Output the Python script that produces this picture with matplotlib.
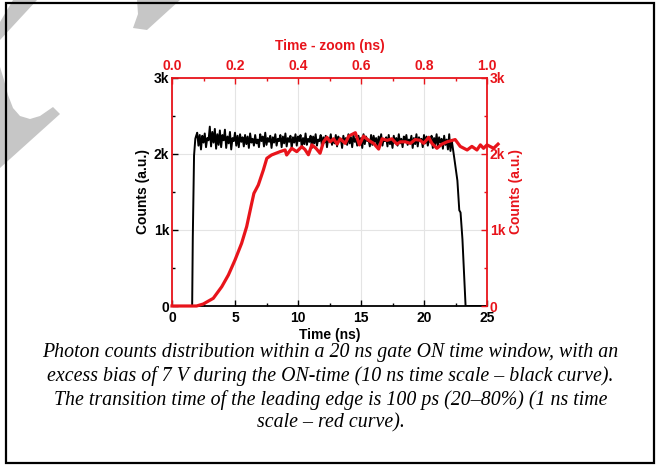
import numpy as np
import matplotlib
matplotlib.use('Agg')
import matplotlib.pyplot as plt
from matplotlib.patches import Polygon, Rectangle
from matplotlib.ticker import MultipleLocator, FuncFormatter

#%% DATA
# black curve: gate ON, 10 ns time scale (bottom axis)
black_rise_t = [0.0, 1.6, 1.65, 1.75, 1.85]
black_rise_v = [0, 0, 900, 1980, 2200]
black_plateau_v = [
    2230, 2280, 2110, 2250, 2060, 2240, 2150, 2270, 2090, 2210,
    2180, 2360, 2100, 2290, 2150, 2330, 2070, 2260, 2120, 2310,
    2090, 2250, 2180, 2320, 2080, 2230, 2140, 2290, 2060, 2210,
    2170, 2280, 2110, 2240, 2090, 2260, 2160, 2220, 2100, 2250,
    2130, 2230, 2080, 2270, 2150, 2200, 2110, 2250, 2140, 2190,
    2090, 2260, 2170, 2230, 2100, 2280, 2120, 2210, 2160, 2240,
    2080, 2220, 2150, 2260, 2110, 2200, 2170, 2250, 2090, 2230,
    2140, 2270, 2100, 2210, 2160, 2240, 2080, 2220, 2150, 2260,
    2110, 2230, 2170, 2250, 2090, 2210, 2130, 2270, 2120, 2200,
    2160, 2240, 2080, 2230, 2140, 2260, 2110, 2190, 2170, 2250,
    2100, 2220, 2150, 2240, 2090, 2210, 2160, 2260, 2120, 2200,
    2140, 2250, 2100, 2230, 2170, 2200, 2080, 2240, 2150, 2210,
    2120, 2260, 2140, 2220, 2090, 2250, 2160, 2200, 2110, 2240,
    2150, 2210, 2080, 2260, 2130, 2230, 2170, 2190, 2100, 2250,
    2120, 2240, 2160, 2210, 2090, 2230, 2140, 2260, 2110, 2200,
    2170, 2220, 2100, 2250, 2130, 2190, 2080, 2240, 2150, 2210,
    2110, 2260, 2140, 2200, 2090, 2230, 2160, 2250, 2120, 2190,
    2150, 2240, 2080, 2210, 2130, 2260, 2100, 2220, 2170, 2200,
    2090, 2250, 2140, 2230, 2110, 2190, 2160, 2240, 2080, 2210,
    2130, 2260, 2100, 2220, 2150, 2200, 2070, 2240, 2120, 2190,
    2060, 2260, 2040, 2180,
]
black_plateau_start, black_plateau_end = 1.9, 22.2
black_fall_t = [22.4, 22.65, 22.8, 22.9, 23.05, 23.3, 25.0]
black_fall_v = [1950, 1650, 1260, 1230, 880, 0, 0]

# red curve: leading edge, 1 ns time scale (top axis)
red_t = [0.0, 0.078, 0.099, 0.131, 0.158, 0.179, 0.200, 0.221, 0.237, 0.253,
         0.260, 0.274, 0.290, 0.301, 0.316, 0.343, 0.359, 0.364, 0.380, 0.396,
         0.412, 0.422, 0.433, 0.444, 0.457, 0.470, 0.481, 0.492, 0.502, 0.513,
         0.524, 0.534, 0.550, 0.561, 0.582, 0.595, 0.608, 0.624, 0.640, 0.656,
         0.667, 0.683, 0.698, 0.714, 0.725, 0.741, 0.757, 0.772, 0.788, 0.799,
         0.815, 0.825, 0.841, 0.857, 0.873, 0.899, 0.915, 0.937, 0.952, 0.968,
         0.979, 0.989, 1.000, 1.021, 1.035]
red_v = [0, 0, 26, 101, 254, 408, 605, 825, 1044, 1351,
         1482, 1592, 1789, 1943, 1987, 2031, 2053, 1987, 2075, 2031,
         2096, 2060, 1990, 2120, 2075, 2010, 2160, 2220, 2160, 2200,
         2130, 2200, 2140, 2235, 2280, 2120, 2235, 2180, 2140, 2065,
         2200, 2180, 2200, 2130, 2160, 2160, 2140, 2190, 2180, 2140,
         2220, 2140, 2075, 2130, 2160, 2190, 2100, 2053, 2100, 2053,
         2120, 2075, 2120, 2075, 2130]

caption = ('Photon counts distribution within a 20 ns gate ON time window, with an\n'
           'excess bias of 7 V during the ON-time (10 ns time scale \u2013 black curve).\n'
           'The transition time of the leading edge is 100 ps (20\u201380%) (1 ns time\n'
           'scale \u2013 red curve).')

RED = '#e8141b'

#%% FIGURE
plt.rcParams['font.family'] = ['Liberation Sans', 'DejaVu Sans']
plt.rcParams['font.weight'] = 'bold'
W, H = 661, 467
fig = plt.figure(figsize=(W / 100, H / 100), dpi=100)

def px(x0, y0, x1, y1):
    # pixel box (from top-left) -> figure fraction [l, b, w, h]
    return [x0 / W, 1 - y1 / H, (x1 - x0) / W, (y1 - y0) / H]

# grey watermark remnants in the corner
def wm(pts):
    fig.patches.append(Polygon([(x / W, 1 - y / H) for x, y in pts], closed=True,
                               transform=fig.transFigure, facecolor='#c6c6c6',
                               edgecolor='none', zorder=0))
wm([(13, 0), (37, 0), (0, 40), (0, 22)])
wm([(0, 67), (4, 80), (8, 95), (13, 108), (20, 116), (30, 119), (40, 116),
    (53, 107), (60, 114), (0, 168)])
wm([(137, 0), (180, 0), (147, 30), (133, 28), (138, 14)])

# outer frame
fig.patches.append(Rectangle((6 / W, 1 - 463 / H), 648 / W, 460 / H, transform=fig.transFigure,
                             fill=False, edgecolor='black', linewidth=1.6, zorder=1))

rect = px(172, 78, 487, 306)
ax = fig.add_axes(rect)
axr = fig.add_axes(rect, facecolor='none')

# black curve on bottom/left axes
black_plateau_t = np.linspace(black_plateau_start, black_plateau_end, len(black_plateau_v))
bt = np.concatenate([black_rise_t, black_plateau_t, black_fall_t])
bv = np.concatenate([black_rise_v, black_plateau_v, black_fall_v])
ax.plot(bt, bv, color='black', linewidth=1.4)
ax.set_xlim(0, 25)
ax.set_ylim(0, 3000)
ax.xaxis.set_major_locator(MultipleLocator(5))
ax.xaxis.set_minor_locator(MultipleLocator(2.5))
ax.yaxis.set_major_locator(MultipleLocator(1000))
ax.yaxis.set_minor_locator(MultipleLocator(500))
kfmt = FuncFormatter(lambda v, p: '0' if v == 0 else '%dk' % (v / 1000))
ax.yaxis.set_major_formatter(kfmt)
ax.grid(True, which='major', color='#e4e4e4', linewidth=0.8)
ax.set_axisbelow(True)
ax.tick_params(which='both', direction='in', labelsize=10, pad=2, width=1)
ax.tick_params(axis='x', pad=3.5)
ax.tick_params(which='major', length=4)
ax.tick_params(which='minor', length=2)
ax.set_xlabel('Time (ns)', fontsize=10, fontweight='bold', labelpad=2)
ax.set_ylabel('Counts (a.u.)', fontsize=10, fontweight='bold', labelpad=3)
ax.spines['left'].set_color(RED)
ax.spines['bottom'].set_color('black')
for s in ['left', 'bottom']:
    ax.spines[s].set_linewidth(1.3)
for s in ['top', 'right']:
    ax.spines[s].set_visible(False)

# red curve on top/right axes
axr.plot(red_t, red_v, color=RED, linewidth=2.3, clip_on=False)
axr.set_xlim(0, 1.0)
axr.set_ylim(0, 3000)
axr.xaxis.tick_top()
axr.xaxis.set_label_position('top')
axr.yaxis.tick_right()
axr.yaxis.set_label_position('right')
axr.xaxis.set_major_locator(MultipleLocator(0.2))
axr.xaxis.set_minor_locator(MultipleLocator(0.1))
axr.xaxis.set_major_formatter(FuncFormatter(lambda v, p: '%.1f' % v))
axr.yaxis.set_major_locator(MultipleLocator(1000))
axr.yaxis.set_minor_locator(MultipleLocator(500))
axr.yaxis.set_major_formatter(kfmt)
axr.tick_params(which='both', direction='in', labelsize=10, pad=2, width=1,
                colors=RED)
axr.tick_params(axis='x', pad=3.5)
axr.tick_params(which='major', length=4)
axr.tick_params(which='minor', length=2)
axr.set_xlabel('Time - zoom (ns)', fontsize=10, fontweight='bold', color=RED, labelpad=6.5)
axr.set_ylabel('Counts (a.u.)', fontsize=10, fontweight='bold', color=RED, labelpad=3)
for s in ['top', 'right']:
    axr.spines[s].set_color(RED)
    axr.spines[s].set_linewidth(1.3)
for s in ['bottom', 'left']:
    axr.spines[s].set_visible(False)

# caption
fig.text(0.5, 1 - 343 / H, caption, ha='center', va='top', fontsize=14.3,
         family=['Liberation Serif', 'DejaVu Serif'], style='italic', fontweight='normal',
         linespacing=1.26)

fig.savefig('out.png', dpi=100)
